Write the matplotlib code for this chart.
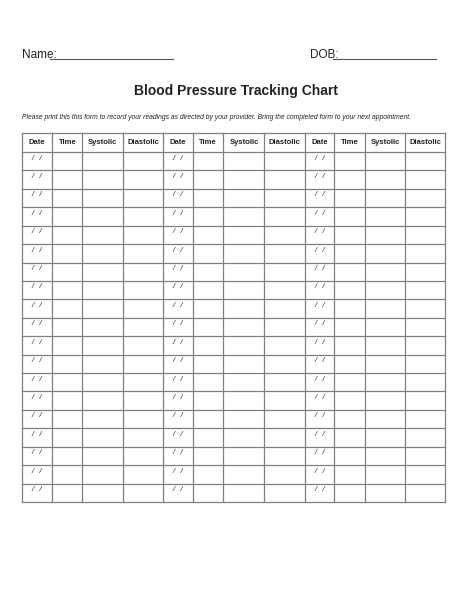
import matplotlib.pyplot as plt

plt.rcParams['font.family'] = ['Liberation Sans', 'DejaVu Sans']

headers = ["Date", "Time", "Systolic", "Diastolic"] * 3
colEdges = [22, 52.5, 82.5, 123, 163, 193, 223.5, 264.5, 305, 334, 365, 405, 445]
nRows = 19
tableTop = 133
headerBottom = 152
tableBottom = 502
title = "Blood Pressure Tracking Chart"
note = ("Please print this this form to record your readings as directed by your provider. "
        "Bring the completed form to your next appointment.")

fig = plt.figure(figsize=(4.74, 6.13), dpi=100)
ax = fig.add_axes([0, 0, 1, 1])
ax.set_xlim(0, 474)
ax.set_ylim(613, 0)
ax.axis("off")

lineColor = "#808080"

# name / dob
ax.text(22, 58, "Name:", fontsize=8.5, va="baseline", color="#222222")
ax.plot([50, 173], [59, 59], color="#555555", lw=0.8)
ax.text(310, 58, "DOB:", fontsize=8.5, va="baseline", color="#222222")
ax.plot([333, 436], [59, 59], color="#555555", lw=0.8)

ax.text(236, 95, title, fontsize=10, fontweight="bold", ha="center", va="baseline", color="#222222")
ax.text(22, 119, note, fontsize=4.9, style="italic", va="baseline", color="#222222")

# grid
rowH = (tableBottom - headerBottom) / nRows
rowEdges = [tableTop, headerBottom] + [headerBottom + rowH * (i + 1) for i in range(nRows)]
for y in rowEdges:
    ax.plot([colEdges[0], colEdges[-1]], [y, y], color=lineColor, lw=0.9)
for x in colEdges:
    ax.plot([x, x], [tableTop, tableBottom], color=lineColor, lw=0.9)

for i, h in enumerate(headers):
    cx = (colEdges[i] + colEdges[i + 1]) / 2
    ax.text(cx, 142, h, fontsize=5.5, fontweight="bold", ha="center", va="center", color="#222222")

for r in range(nRows):
    cy = headerBottom + rowH * r + 6
    for i, h in enumerate(headers):
        if h == "Date":
            ax.text(colEdges[i] + 9, cy, "/   /", fontsize=5.5, style="italic", va="center", color="#222222")

fig.savefig("out.png", dpi=100)
